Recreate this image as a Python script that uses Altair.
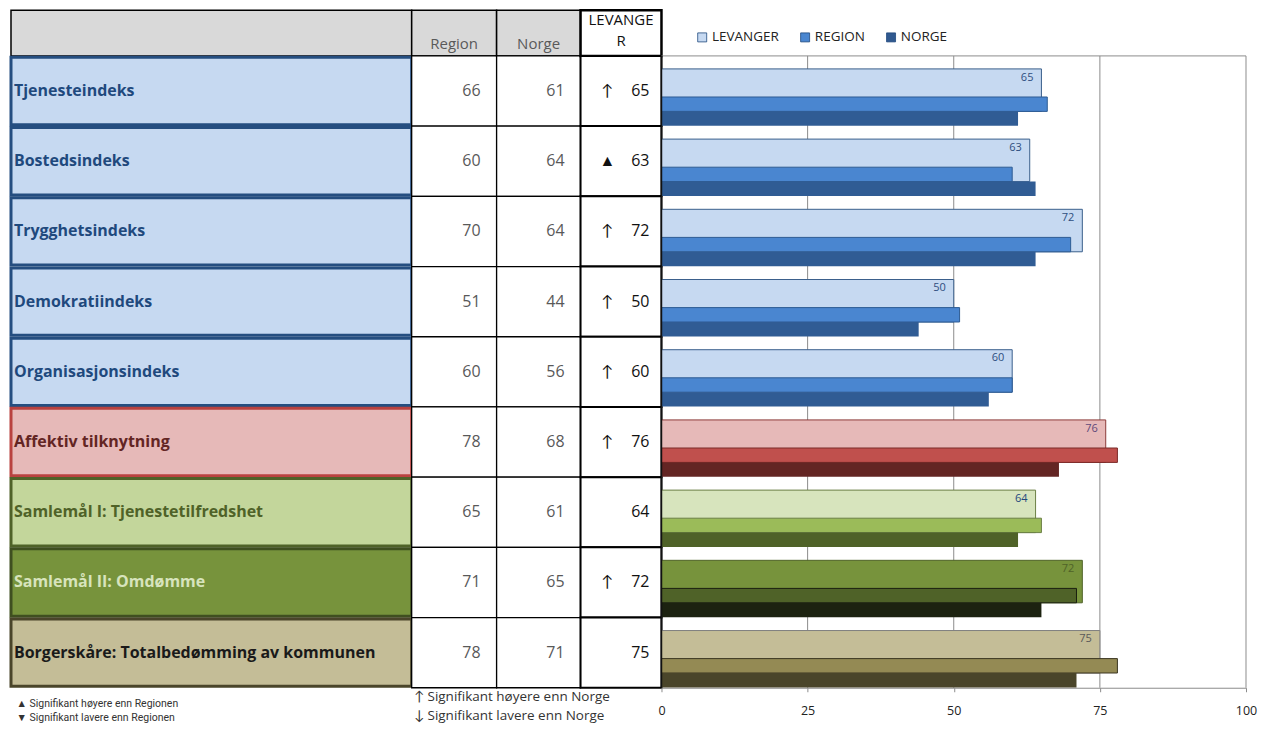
import altair as alt
import pandas as pd

# ---------------- data ----------------
categories = [
    "Tjenesteindeks",
    "Bostedsindeks",
    "Trygghetsindeks",
    "Demokratiindeks",
    "Organisasjonsindeks",
    "Affektiv tilknytning",
    "Samlemål I: Tjenestetilfredshet",
    "Samlemål II: Omdømme",
    "Borgerskåre: Totalbedømming av kommunen",
]
region = [66, 60, 70, 51, 60, 78, 65, 71, 78]
norge = [61, 64, 64, 44, 56, 68, 61, 65, 71]
levanger = [65, 63, 72, 50, 60, 76, 64, 72, 75]
lev_marker = ["↑", "▲", "↑", "↑", "↑", "↑", "", "↑", ""]
row_group = ["blue", "blue", "blue", "blue", "blue", "red", "lgreen", "dgreen", "tan"]

series_names = ["LEVANGER", "REGION", "NORGE"]
x_ticks = [0, 25, 50, 75, 100]
header_region = "Region"
header_norge = "Norge"
header_lev = "LEVANGE\nR"
footnote_left = ["▲ Signifikant høyere enn Regionen", "▼ Signifikant lavere enn Regionen"]
footnote_mid = ["↑ Signifikant høyere enn Norge", "↓ Signifikant lavere enn Norge"]

# ---------------- styles ----------------
FONT = "Open Sans, Lato, sans-serif"
NARROW = "Liberation Sans Narrow, Roboto, sans-serif"
HEADER = 0.65
H = 678

palette = {
    "blue": dict(cell="#C6D9F1", border="#254E80", txt="#1F497D", Lf="#C6D9F1", Ls="#3A5F8C",
                 Rf="#4A86D0", Rs="#2D5B93", Nf="#305C94", val="#2E4E7E"),
    "red": dict(cell="#E6B9B8", border="#B9423F", txt="#632523", Lf="#E6B9B8", Ls="#8C3A38",
                Rf="#C0504D", Rs="#7A2A28", Nf="#632523", val="#5F497A"),
    "lgreen": dict(cell="#C3D69B", border="#4F6228", txt="#4F6228", Lf="#D7E4BD", Ls="#6B7F45",
                   Rf="#9BBB59", Rs="#6B7F45", Nf="#4F6228", val="#1F497D"),
    "dgreen": dict(cell="#77933C", border="#3F4F20", txt="#D7E4BD", Lf="#77933C", Ls="#4F6228",
                   Rf="#4F6228", Rs="#1A1F10", Nf="#1C2210", val="#4F6228"),
    "tan": dict(cell="#C4BD97", border="#4A452A", txt="#1A1A1A", Lf="#C4BD97", Ls="#7F7F7F",
                Rf="#948A54", Rs="#3A3520", Nf="#4A452A", val="#595959"),
}
legend_colors = ["#C6D9F1", "#4A86D0", "#30598F"]

df = pd.DataFrame({"cat": categories, "region": region, "norge": norge,
                   "lev": levanger, "marker": lev_marker})
df["r"] = list(range(len(categories)))
for key in palette["blue"]:
    df[key] = [palette[g][key] for g in row_group]

NROWS = len(categories)
YS = alt.Scale(domain=[-HEADER, NROWS], reverse=True, nice=False, zero=False)
XS = alt.Scale(domain=[0, 100], nice=False, zero=True)
XAX = alt.Axis(values=x_ticks, title=None, grid=False, domainColor="#8C8C8C",
               tickColor="#8C8C8C", tickSize=4, labelPadding=13,
               labelFont=FONT, labelFontSize=12.5, labelColor="#222222", labelFlush=False)


def yq(field):
    return alt.Y(field, type="quantitative", scale=YS, axis=None)


def xq(field):
    return alt.X(field, type="quantitative", scale=XS, axis=XAX)


base = alt.Chart(df).transform_calculate(
    zero="0",
    r1="datum.r + 1",
    rm="datum.r + 0.5",
    c0="datum.r + 0.02",
    c1="datum.r + 0.98",
    l0="datum.r + 0.185",
    l1="datum.r + 0.79",
    g0="datum.r + 0.585",
    n1="datum.r + 0.995",
    lt="datum.r + 0.31",
)


def header_df(text):
    return pd.DataFrame({"y0": [-HEADER], "y1": [0], "h": [text]})


# ---------------- label column ----------------
label_chart = alt.layer(
    alt.Chart(header_df("")).mark_rect(fill="#D9D9D9", stroke="#000", strokeWidth=1.5)
    .encode(y=yq("y0"), y2="y1"),
    base.mark_rect(strokeWidth=3)
    .encode(y=yq("c0"), y2="c1",
            fill=alt.Fill("cell:N", scale=None),
            stroke=alt.Stroke("border:N", scale=None)),
    base.mark_text(align="left", baseline="middle", font=FONT, fontSize=16, fontWeight="bold")
    .encode(x=alt.value(3), y=yq("rm"), text="cat:N",
            color=alt.Color("txt:N", scale=None)),
).properties(
    width=401, height=H,
    title=alt.TitleParams(footnote_left, orient="bottom", anchor="start", font=NARROW,
                          fontSize=10.5, fontWeight="normal", color="#333333",
                          offset=11, dx=7, lineHeight=14),
)


# ---------------- numeric columns ----------------
def num_col(field, header, width, right_pad, title=None):
    layers = [
        alt.Chart(header_df(header)).mark_rect(fill="#D9D9D9", stroke="#000", strokeWidth=1.5)
        .encode(y=yq("y0"), y2="y1"),
        alt.Chart(header_df(header)).mark_text(baseline="bottom", dy=-4, font=FONT,
                                               fontSize=15, color="#595959")
        .encode(y=yq("y1"), text="h:N"),
        base.mark_rect(fill="white", stroke="#000", strokeWidth=1.3)
        .encode(y=yq("r"), y2="r1"),
        base.mark_text(align="right", baseline="middle", font=FONT, fontSize=16, color="#595959")
        .encode(x=alt.value(width - right_pad), y=yq("rm"), text=f"{field}:Q"),
    ]
    ch = alt.layer(*layers).properties(width=width, height=H)
    if title is not None:
        ch = ch.properties(title=title)
    return ch


region_chart = num_col(
    "region", header_region, 85, 16,
    title=alt.TitleParams(footnote_mid, orient="bottom", anchor="start", font=FONT,
                          fontSize=13.5, fontWeight="normal", color="#333333",
                          offset=2, dx=3, lineHeight=19),
)
norge_chart = num_col("norge", header_norge, 84, 16)

lev_chart = alt.layer(
    alt.Chart(header_df(header_lev)).mark_rect(fill="white", stroke="#000", strokeWidth=2.5)
    .encode(y=yq("y0"), y2="y1"),
    alt.Chart(header_df(header_lev)).mark_text(baseline="top", dy=3, font=FONT, fontSize=15,
                                               color="#111111", lineBreak="\n", lineHeight=21)
    .encode(y=yq("y0"), text="h:N"),
    base.mark_rect(fill="white", stroke="#000", strokeWidth=2)
    .encode(y=yq("r"), y2="r1"),
    base.mark_text(align="center", baseline="middle", font=FONT, fontSize=16, color="#111111")
    .encode(x=alt.value(27), y=yq("rm"), text="marker:N"),
    base.mark_text(align="right", baseline="middle", font=FONT, fontSize=16, color="#111111")
    .encode(x=alt.value(69), y=yq("rm"), text="lev:Q"),
).properties(width=81, height=H)

# ---------------- bar chart ----------------
grid_df = pd.DataFrame({"v": x_ticks[1:], "y0": [0] * 4, "y1": [NROWS] * 4})
frame_df = pd.DataFrame({"x0": [0], "x1": [100], "y0": [0], "y1": [NROWS]})
legend_df = pd.DataFrame({"series": series_names, "y": [-0.3] * 3})

bar_chart = alt.layer(
    alt.Chart(grid_df).mark_rule(color="#8C8C8C", strokeWidth=1)
    .encode(x=xq("v"), y=yq("y0"), y2="y1"),
    alt.Chart(frame_df).mark_rule(color="#8C8C8C", strokeWidth=1)
    .encode(x=xq("x0"), x2="x1", y=yq("y0")),
    base.mark_rect(strokeWidth=1)
    .encode(x=xq("lev"), x2="zero:Q",
            y=yq("l0"), y2="l1",
            fill=alt.Fill("Lf:N", scale=None), stroke=alt.Stroke("Ls:N", scale=None)),
    base.mark_rect(strokeWidth=1)
    .encode(x=xq("region"), x2="zero:Q",
            y=yq("g0"), y2="l1",
            fill=alt.Fill("Rf:N", scale=None), stroke=alt.Stroke("Rs:N", scale=None)),
    base.mark_rect(strokeWidth=0)
    .encode(x=xq("norge"), x2="zero:Q",
            y=yq("l1"), y2="n1",
            fill=alt.Fill("Nf:N", scale=None)),
    base.mark_text(align="right", baseline="middle", dx=-8, font=FONT, fontSize=11)
    .encode(x=xq("lev"), y=yq("lt"), text="lev:Q",
            color=alt.Color("val:N", scale=None)),
    alt.Chart(frame_df).mark_rule(color="#111111", strokeWidth=1.5)
    .encode(x=xq("x0"), y=yq("y0"), y2="y1"),
    alt.Chart(legend_df).mark_square(opacity=0)
    .encode(x=xq("y"), y=yq("y"),
            fill=alt.Fill("series:N",
                          scale=alt.Scale(domain=series_names, range=legend_colors),
                          legend=alt.Legend(orient="none", legendX=685, legendY=20,
                                            direction="horizontal", title=None,
                                            symbolType="square", symbolSize=81,
                                            symbolOpacity=1, symbolStrokeColor="#1F497D",
                                            symbolStrokeWidth=0.8, labelFont=FONT,
                                            labelFontSize=13.5, labelColor="#222222",
                                            columnPadding=19, labelOffset=3))),
).properties(width=585, height=H)

chart = alt.hconcat(
    label_chart, region_chart, norge_chart, lev_chart, bar_chart,
    spacing=0, bounds="flush",
).properties(
    padding={"left": 1, "top": 0, "right": 0, "bottom": 0},
).configure_view(stroke="transparent")

chart.save("out.html", embed_options={"renderer": "svg", "actions": False})
